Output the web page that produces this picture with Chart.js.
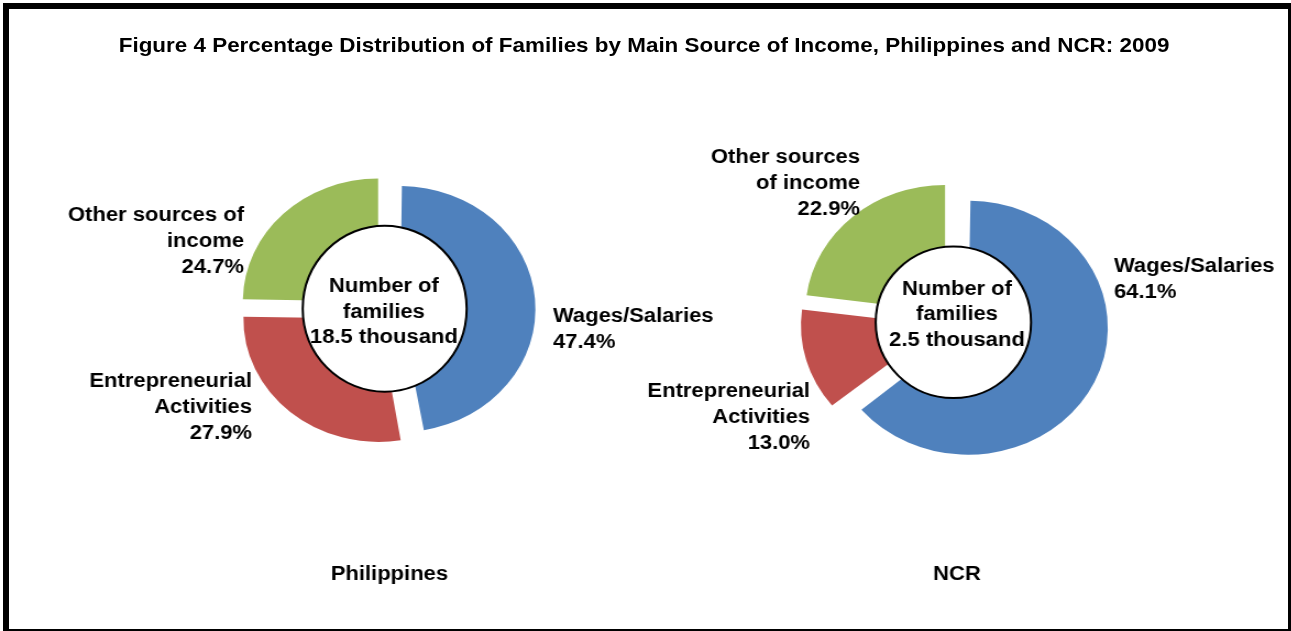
<!DOCTYPE html>
<html>
<head>
<meta charset="utf-8">
<script src="https://cdn.jsdelivr.net/npm/chart.js@4.4.0/dist/chart.umd.min.js"></script>
<style>
  html, body { margin: 0; padding: 0; background: #fff; width: 1291px; height: 631px; overflow: hidden; }
  .frame { position: absolute; left: 3px; top: 3px; width: 1279px; height: 620px; border: 6px solid #000; }
  .stage { position: absolute; left: 0; top: 0; width: 1174px; height: 631px; transform: scaleX(1.1); transform-origin: 0 0;
           font-family: "Liberation Sans", Arial, sans-serif; }
  .title { position: absolute; left: 0; top: 33px; width: 1171px; text-align: center; font-weight: bold; font-size: 20.4px; line-height: 24px; color: #000; }
  canvas { position: absolute; }
</style>
</head>
<body>
<div class="frame"></div>
<div class="stage">
  <div class="title">Figure 4 Percentage Distribution of Families by Main Source of Income, Philippines and NCR: 2009</div>
  <canvas id="phChart" width="640" height="580" style="left:32px; top:20px;"></canvas>
  <canvas id="ncrChart" width="640" height="580" style="left:548px; top:32px;"></canvas>
</div>
<script>
const categories = ["Wages/Salaries", "Entrepreneurial Activities", "Other sources of income"];
const philippinesShares = [47.4, 27.9, 24.7];
const ncrShares = [64.1, 13.0, 22.9];
const philippinesFamilies = 18.5; // thousand
const ncrFamilies = 2.5; // thousand
const regionNames = ["Philippines", "NCR"];
const sliceColors = ["#4F81BD", "#C0504D", "#9BBB59"];

const FONT = "bold 20px 'Liberation Sans', Arial, sans-serif";
const LINE_H = 26;
const CENTER_LINE_H = 25.5;

function splitWords(text, at) {
  const w = text.split(" ");
  if (!at || at >= w.length) return [text];
  return [w.slice(0, at).join(" "), w.slice(at).join(" ")];
}

function drawDoughnut(canvasId, shares, families, region, layout) {
  const ctx = document.getElementById(canvasId).getContext("2d");

  const labelPlugin = {
    id: "labels_" + canvasId,
    afterUpdate(chart) {
      // chart.js grows small pulled-out slices a bit; keep every slice at the same radius
      chart.getDatasetMeta(0).data.forEach((arc) => {
        const fix = 1 - Math.sin(Math.min(Math.PI, arc.circumference));
        const grow = (arc.options.offset / 4) * fix;
        arc.outerRadius -= grow;
        arc.innerRadius = Math.max(arc.innerRadius - grow, 0);
      });
    },
    afterDatasetsDraw(chart) {
      const arc = chart.getDatasetMeta(0).data[0];
      const cx = arc.x, cy = arc.y;
      const g = chart.ctx;
      g.save();
      g.font = FONT;
      g.fillStyle = "#000";
      g.textBaseline = "middle";

      // slice labels
      layout.labels.forEach((lab, i) => {
        g.textAlign = lab.align;
        const lines = splitWords(categories[i], lab.breakAt).concat([shares[i].toFixed(1) + "%"]);
        lines.forEach((t, k) => g.fillText(t, cx + lab.dx, cy + lab.dy + k * LINE_H));
      });

      // centre bubble
      const e = layout.ellipse;
      g.beginPath();
      g.ellipse(cx + e.dx, cy + e.dy, e.rx, e.ry, 0, 0, Math.PI * 2);
      g.fillStyle = "#fff";
      g.fill();
      g.lineWidth = 2;
      g.strokeStyle = "#000";
      g.stroke();

      g.fillStyle = "#000";
      g.textAlign = "center";
      const centerLines = ["Number of", "families", families.toFixed(1) + " thousand"];
      centerLines.forEach((t, k) => g.fillText(t, cx + e.tx, cy + e.ty + k * CENTER_LINE_H));

      // region name under the chart
      g.fillText(region, cx + 2, cy + layout.regionDy);
      g.restore();
    }
  };

  return new Chart(ctx, {
    type: "doughnut",
    data: {
      labels: categories,
      datasets: [
        {
          data: shares,
          backgroundColor: sliceColors,
          borderWidth: 0,
          radius: layout.radius,
          offset: 4 * layout.pull, // arcs move offset/4
        },
      ],
    },
    options: {
      responsive: false,
      animation: false,
      events: [],
      cutout: "35%",
      layout: { padding: 0 },
      plugins: {
        legend: { display: false },
        tooltip: { enabled: false },
      },
    },
    plugins: [labelPlugin],
  });
}

drawDoughnut("phChart", philippinesShares, philippinesFamilies, regionNames[0], {
  radius: 123,
  pull: 11.8,
  regionDy: 264,
  ellipse: { dx: -2.3, dy: -1.3, rx: 74.5, ry: 83, tx: -3, ty: -23.3 },
  labels: [
    { align: "left", dx: 150.7, dy: 6, breakAt: 0 },
    { align: "right", dx: -122.9, dy: 71, breakAt: 1 },
    { align: "right", dx: -130.2, dy: -95, breakAt: 3 },
  ],
});

drawDoughnut("ncrChart", ncrShares, ncrFamilies, regionNames[1], {
  radius: 127,
  pull: 13.4,
  regionDy: 252,
  ellipse: { dx: -1.3, dy: 0.3, rx: 70.6, ry: 75.7, tx: 2, ty: -32.7 },
  labels: [
    { align: "left", dx: 144.7, dy: -56, breakAt: 0 },
    { align: "right", dx: -131.6, dy: 69, breakAt: 1 },
    { align: "right", dx: -86.2, dy: -165, breakAt: 2 },
  ],
});
</script>
</body>
</html>
